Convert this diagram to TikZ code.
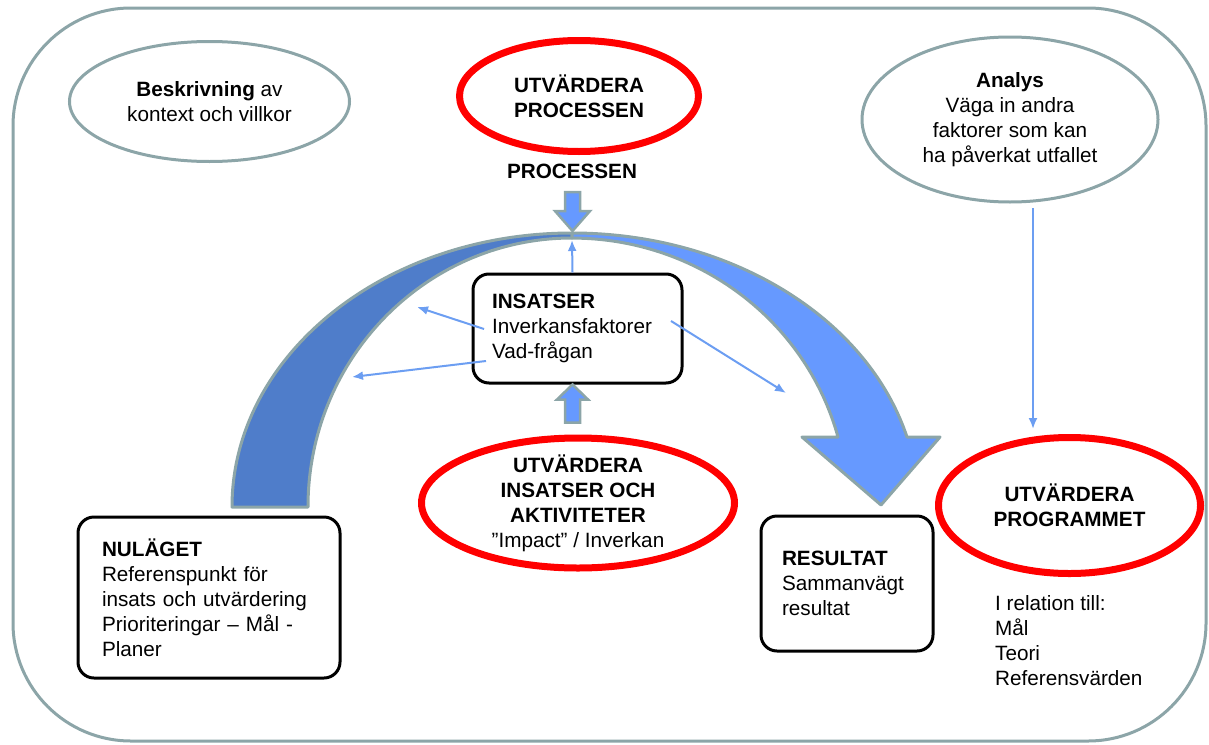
\documentclass[tikz,border=0pt]{standalone}
\usepackage{fontspec}
\setmainfont{Liberation Sans}
\usetikzlibrary{shapes.geometric,arrows.meta}
\definecolor{frameg}{RGB}{140,165,168}
\definecolor{darkb}{RGB}{79,125,202}
\definecolor{lightb}{RGB}{102,153,255}
\definecolor{thinb}{RGB}{108,158,242}
\newcommand\dgfont{\fontsize{20.7}{25}\selectfont}
\begin{document}
\begin{tikzpicture}[x=1pt,y=-1pt,font=\dgfont,
  grayell/.style={ellipse, draw=frameg, line width=3pt, inner sep=-12pt, align=center, font=\dgfont},
  redell/.style={ellipse, draw=red, line width=7pt, inner sep=-12pt, align=center, font=\dgfont},
  boxnode/.style={draw=black, line width=3pt, rounded corners=16pt, fill=white, align=left, inner ysep=0pt, font=\dgfont},
  thinarrow/.style={draw=thinb, line width=2pt, -{Latex[length=11pt,width=9pt]}},
  blockarrow/.style={fill=lightb, draw=frameg, line width=2.5pt, line join=miter},
  band/.style={draw=frameg, line width=3pt, line join=round}]
\useasboundingbox (0,0) rectangle (1209,744);
% outer frame
\draw[frameg, line width=3pt, rounded corners=118pt] (13,8) rectangle (1206,741);
% big curved arrow
\path[band, fill=darkb] (232,507) arc[start angle=180, end angle=270, x radius=340, y radius=274]
  -- (572,238) arc[start angle=270, end angle=180, x radius=264, y radius=269] -- cycle;
\path[band, fill=lightb] (572,233) arc[start angle=270, end angle=345.2, x radius=346.5, y radius=274]
  -- (940,437) -- (881,505) -- (802,437) -- (838,437)
  arc[start angle=344.9, end angle=270, x radius=275.5, y radius=269] -- cycle;
% nodes
\node[grayell, minimum width=280pt, minimum height=120pt] (besk) at (209.5,101.5) {\textbf{Beskrivning} av\\kontext och villkor};
\node[redell, minimum width=239pt, minimum height=111pt] (utvproc) at (579,96) {\textbf{UTVÄRDERA}\\\textbf{PROCESSEN}};
\node[font=\dgfont\bfseries, inner sep=0pt] (proclabel) at (572,171) {PROCESSEN};
\node[grayell, minimum width=296pt, minimum height=165pt] (analys) at (1010,119.5) {\textbf{Analys}\\Väga in andra\\faktorer som kan\\ha påverkat utfallet};
\node[boxnode, text width=171pt, inner xsep=19pt, minimum height=109pt] (ins) at (577.5,328.5) {\textbf{INSATSER}\\Inverkansfaktorer\\Vad-frågan};
\node[redell, minimum width=313pt, minimum height=130pt] (utvins) at (578,503) {\textbf{UTVÄRDERA}\\\textbf{INSATSER OCH}\\\textbf{AKTIVITETER}\\”Impact” / Inverkan};
\node[redell, minimum width=262pt, minimum height=136pt] (utvprog) at (1069.5,505.5) {\textbf{UTVÄRDERA}\\\textbf{PROGRAMMET}};
\node[boxnode, text width=214pt, inner xsep=24pt, minimum height=161pt] (nul) at (209,597.5) {\textbf{NULÄGET}\\Referenspunkt för\\insats och utvärdering\\Prioriteringar – Mål -\\Planer};
\node[boxnode, text width=130pt, inner xsep=21pt, minimum height=135pt] (res) at (847,583.5) {\textbf{RESULTAT}\\Sammanvägt\\resultat};
\node[align=left, anchor=north west, inner sep=0pt, font=\dgfont] (rel) at (995,595) {I relation till:\\Mål\\Teori\\Referensvärden};
% block arrows
\coordinate (arctop) at (572.5,231);
\path[blockarrow, shift={(arctop)}] (-7.5,-39) -- (7.5,-39) -- (7.5,-20) -- (17.5,-20) -- (0,0) -- (-17.5,-20) -- (-7.5,-20) -- cycle;
\path[blockarrow, shift={([xshift=-5pt]ins.south)}] (-7.5,38) -- (-7.5,15) -- (-15.5,15) -- (0,0) -- (15.5,15) -- (7.5,15) -- (7.5,38) -- cycle;
% thin arrows
\coordinate (a1s) at (484,329); \coordinate (a1e) at (417,307);
\coordinate (a2s) at (486,361); \coordinate (a2e) at (352,377);
\coordinate (a3s) at (671,321); \coordinate (a3e) at (786,393);
\coordinate (a4e) at (572,240);
\coordinate (a5s) at (1033,208); \coordinate (a5e) at (1033,429);
\draw[thinarrow] (a1s) -- (a1e);
\draw[thinarrow] (a2s) -- (a2e);
\draw[thinarrow] (a3s) -- (a3e);
\draw[thinarrow] ([xshift=-5pt]ins.north) -- (a4e);
\draw[thinarrow] (a5s) -- (a5e);
\end{tikzpicture}
\end{document}
